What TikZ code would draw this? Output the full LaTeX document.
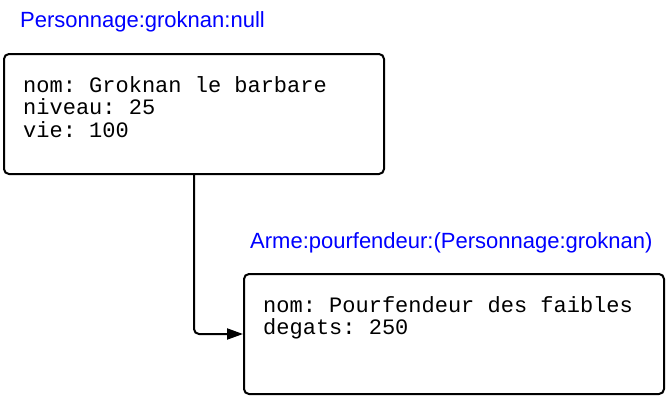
\documentclass[tikz,border=0pt]{standalone}
\usepackage{fontspec}
\usepackage{xcolor}
\usepackage{tikz}
\usetikzlibrary{arrows.meta,positioning}
\newfontfamily\labelfont{Liberation Sans}
\newfontfamily\attrfont{Liberation Mono}
\frenchspacing

\begin{document}
\begin{tikzpicture}[x=1pt,y=-1pt,
        objbox/.style={draw,line width=2pt,rounded corners=5pt,minimum width=380pt,minimum height=120pt,inner sep=0pt},
        attrtext/.style={align=left,inner sep=0pt,font=\attrfont\fontsize{22}{22.5}\selectfont},
        objlabel/.style={blue,inner sep=0pt,anchor=base west,font=\labelfont\fontsize{22}{25}\selectfont},
        link/.style={line width=2pt,rounded corners=5pt,-{Triangle[length=16pt,width=11pt]}}]
        \useasboundingbox (0,0) rectangle (667,402);

        % Personnage object
        \node[objbox,anchor=north west] (groknan) at (3,53) {};
        \node[attrtext,below right=23pt and 20pt of groknan.north west] (groknanAttrs)
            {nom: Groknan le barbare\\niveau: 25\\vie: 100};
        \node[objlabel] (groknanLabel) at (20,27) {Personnage:groknan:null};

        % Arme object
        \node[objbox,minimum width=420pt,anchor=north west] (pourfendeur) at (243,273) {};
        \node[attrtext,below right=23pt and 20pt of pourfendeur.north west] (pourfendeurAttrs)
            {nom: Pourfendeur des faibles\\degats: 250};
        \node[objlabel] (pourfendeurLabel) at (250,248) {Arme:pourfendeur:(Personnage:groknan)};

        % Reference from groknan to its weapon
        \draw[link] (groknan.south) |- (pourfendeur.west);

    \end{tikzpicture}
\end{document}
